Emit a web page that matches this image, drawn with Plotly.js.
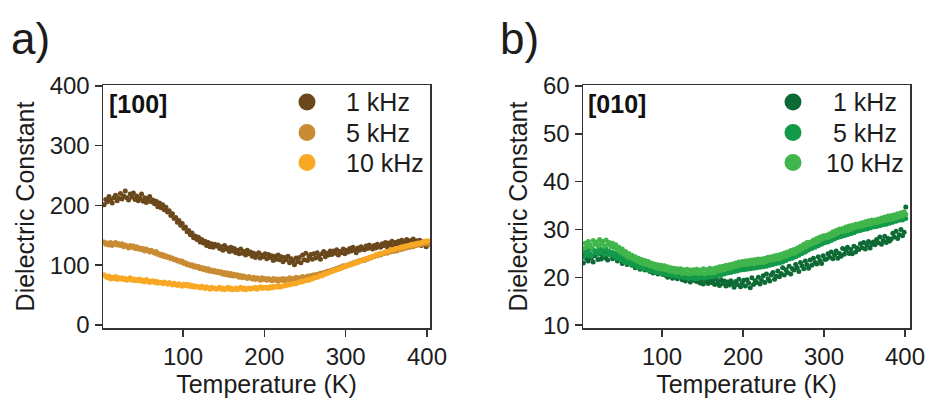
<!DOCTYPE html>
<html>
<head>
<meta charset="utf-8">
<script src="https://cdn.plot.ly/plotly-3.0.1.min.js"></script>
<style>
  html, body { margin: 0; padding: 0; background: #ffffff; }
  #chart { width: 930px; height: 402px; }
</style>
</head>
<body>
<div id="chart"></div>
<script>
// Temperature sweep (K), shared by every frequency
const temperature = [
  3, 5, 7, 9, 11, 13, 15, 17, 19, 21,
  23, 25, 27, 29, 31, 33, 35, 37, 39, 41,
  43, 45, 47, 49, 51, 53, 55, 57, 59, 61,
  63, 65, 67, 69, 71, 73, 75, 77, 79, 81,
  83, 85, 87, 89, 91, 93, 95, 97, 99, 101,
  103, 105, 107, 109, 111, 113, 115, 117, 119, 121,
  123, 125, 127, 129, 131, 133, 135, 137, 139, 141,
  143, 145, 147, 149, 151, 153, 155, 157, 159, 161,
  163, 165, 167, 169, 171, 173, 175, 177, 179, 181,
  183, 185, 187, 189, 191, 193, 195, 197, 199, 201,
  203, 205, 207, 209, 211, 213, 215, 217, 219, 221,
  223, 225, 227, 229, 231, 233, 235, 237, 239, 241,
  243, 245, 247, 249, 251, 253, 255, 257, 259, 261,
  263, 265, 267, 269, 271, 273, 275, 277, 279, 281,
  283, 285, 287, 289, 291, 293, 295, 297, 299, 301,
  303, 305, 307, 309, 311, 313, 315, 317, 319, 321,
  323, 325, 327, 329, 331, 333, 335, 337, 339, 341,
  343, 345, 347, 349, 351, 353, 355, 357, 359, 361,
  363, 365, 367, 369, 371, 373, 375, 377, 379, 381,
  383, 385, 387, 389, 391, 393, 395, 397, 399, 401
];

// [100] orientation, dielectric constant
const dir100_1kHz = [
  201, 210, 206, 215, 209, 204, 213, 217, 208, 212,
  220, 211, 216, 224, 213, 209, 219, 214, 221, 210,
  216, 208, 212, 219, 207, 213, 205, 211, 215, 206,
  209, 203, 207, 198, 204, 196, 201, 193, 197, 189,
  191, 183, 186, 178, 180, 172, 175, 167, 170, 162,
  164, 156, 158, 151, 154, 146, 149, 143, 147, 139,
  143, 137, 140, 133, 138, 131, 136, 130, 135, 132,
  134, 128, 131, 125, 133, 127, 129, 123, 130, 124,
  128, 121, 125, 119, 127, 120, 123, 117, 125, 119,
  122, 115, 120, 113, 118, 121, 112, 117, 114, 119,
  111, 118, 113, 116, 108, 115, 110, 117, 109, 114,
  106, 113, 109, 115, 104, 111, 107, 101, 112, 106,
  113, 104, 117, 109, 120, 108, 114, 118, 110, 119,
  112, 121, 116, 110, 119, 123, 114, 120, 117, 124,
  118, 124, 120, 126, 117, 123, 121, 127, 119, 125,
  122, 128, 124, 130, 126, 121, 129, 125, 131, 127,
  126, 132, 128, 134, 130, 127, 133, 129, 135, 131,
  130, 136, 133, 138, 131, 137, 134, 140, 132, 138,
  135, 140, 137, 142, 134, 139, 143, 136, 141, 138,
  144, 137, 141, 135, 142, 133, 139, 136, 131, 134
];
const dir100_5kHz = [
  139, 135, 137, 134, 138, 133, 136, 138, 134, 136,
  133, 136, 131, 134, 132, 129, 133, 130, 132, 128,
  131, 127, 129, 126, 128, 124, 127, 125, 122, 125,
  122, 120, 123, 118, 119, 116, 118, 114, 116, 113,
  114, 111, 112, 109, 110, 107, 108, 105, 107, 103,
  104, 101, 102, 99, 101, 97, 99, 96, 98, 94,
  96, 93, 95, 91, 94, 90, 92, 89, 91, 88,
  90, 87, 89, 85, 88, 84, 87, 83, 86, 82,
  85, 82, 84, 80, 83, 79, 82, 80, 78, 81,
  79, 77, 80, 76, 79, 78, 75, 79, 76, 78,
  75, 78, 76, 74, 78, 75, 77, 73, 77, 75,
  78, 74, 77, 76, 79, 75, 78, 76, 80, 77,
  79, 77, 81, 78, 80, 82, 79, 83, 81, 84,
  82, 85, 84, 87, 86, 88, 87, 90, 89, 91,
  90, 93, 92, 95, 94, 97, 96, 99, 98, 100,
  99, 102, 101, 104, 103, 106, 105, 108, 107, 109,
  108, 111, 110, 113, 112, 115, 114, 117, 116, 118,
  117, 120, 119, 122, 120, 123, 122, 125, 123, 126,
  124, 127, 126, 129, 127, 130, 129, 132, 130, 133,
  131, 134, 133, 136, 134, 137, 135, 138, 136, 135
];
const dir100_10kHz = [
  84, 81, 79, 82, 77, 80, 78, 81, 76, 79,
  77, 79, 76, 78, 75, 77, 79, 75, 77, 74,
  76, 74, 77, 73, 75, 72, 76, 74, 71, 73,
  74, 71, 73, 70, 72, 71, 69, 72, 70, 68,
  71, 69, 67, 70, 68, 66, 69, 67, 65, 68,
  66, 68, 65, 67, 64, 66, 63, 65, 64, 62,
  65, 63, 61, 64, 62, 60, 63, 61, 62, 60,
  61, 63, 60, 62, 59, 61, 63, 60, 62, 59,
  60, 62, 59, 61, 63, 60, 62, 59, 61, 62,
  60, 62, 61, 63, 60, 62, 64, 61, 63, 62,
  63, 61, 64, 62, 65, 63, 64, 66, 63, 65,
  65, 67, 66, 68, 67, 69, 68, 70, 69, 71,
  71, 73, 72, 74, 74, 76, 75, 77, 77, 79,
  79, 80, 81, 83, 82, 85, 85, 87, 87, 89,
  89, 91, 91, 93, 93, 95, 95, 97, 97, 99,
  99, 101, 101, 103, 103, 105, 105, 107, 107, 109,
  109, 111, 111, 113, 113, 115, 115, 117, 117, 119,
  119, 120, 121, 122, 123, 124, 125, 126, 126, 128,
  128, 129, 129, 131, 130, 132, 132, 133, 133, 135,
  134, 136, 135, 137, 136, 138, 138, 140, 139, 141
];

// [010] orientation, dielectric constant
const dir010_1kHz = [
  23.0, 24.6, 23.9, 23.4, 24.8, 24.1, 23.2, 24.5, 25.0, 23.7,
  24.9, 23.8, 24.4, 25.3, 24.0, 23.6, 24.8, 25.1, 23.9, 24.3,
  24.5, 23.4, 23.9, 24.6, 22.9, 23.5, 24.1, 22.7, 23.3, 23.8,
  22.5, 23.2, 22.0, 22.9, 23.1, 21.7, 22.4, 22.8, 21.5, 22.2,
  22.3, 21.2, 21.8, 20.9, 22.0, 21.4, 20.7, 21.6, 21.1, 20.6,
  21.3, 20.4, 20.0, 21.0, 20.7, 19.8, 20.9, 20.2, 19.7, 20.6,
  20.5, 19.5, 20.1, 19.2, 20.3, 19.9, 19.0, 19.6, 20.2, 19.3,
  19.1, 19.9, 18.8, 19.5, 18.6, 20.0, 19.2, 18.7, 19.6, 18.9,
  19.4, 18.5, 19.7, 18.9, 18.3, 19.5, 18.7, 19.2, 18.2, 19.0,
  18.4, 19.3, 18.7, 17.9, 19.1, 18.5, 19.6, 18.0, 18.8, 19.4,
  18.2, 19.5, 18.8, 17.8, 19.9, 18.5, 19.3, 18.9, 20.0, 18.6,
  19.4, 20.3, 18.9, 20.7, 19.7, 19.2, 20.5, 21.0, 19.6, 20.2,
  21.3, 20.1, 20.8, 22.0, 20.5, 21.6, 21.0, 22.3, 20.7, 21.8,
  21.5, 22.7, 22.0, 21.2, 23.1, 22.4, 21.8, 23.4, 22.6, 21.9,
  23.6, 22.5, 24.0, 23.1, 22.8, 24.3, 23.5, 22.9, 24.5, 23.7,
  23.8, 24.9, 24.2, 25.3, 23.9, 24.7, 25.5, 24.0, 25.0, 24.4,
  26.0, 24.8, 25.6, 26.3, 25.0, 25.8, 24.9, 26.5, 25.3, 26.1,
  25.8, 27.0, 26.2, 27.3, 25.9, 26.7, 27.5, 26.1, 26.9, 27.4,
  26.8, 27.9, 27.2, 28.4, 26.9, 27.7, 28.6, 27.3, 28.1, 27.6,
  28.0, 29.2, 28.4, 29.6, 28.1, 28.9, 30.0, 28.7, 29.4, 34.7
];
const dir010_5kHz = [
  24.2, 25.3, 24.6, 25.7, 24.9, 24.4, 25.8, 25.1, 25.5, 24.8,
  26.0, 25.2, 25.6, 24.7, 25.9, 25.0, 25.4, 24.6, 25.2, 24.4,
  25.0, 24.0, 24.6, 23.6, 24.2, 23.3, 23.9, 23.0, 23.6, 22.8,
  23.3, 22.6, 23.0, 22.2, 22.8, 22.0, 22.6, 21.8, 22.4, 21.7,
  22.2, 21.4, 22.0, 21.2, 21.8, 21.0, 21.6, 20.9, 21.5, 20.8,
  21.4, 20.6, 21.2, 20.5, 21.1, 20.3, 21.0, 20.2, 20.9, 20.1,
  20.8, 20.0, 20.7, 19.9, 20.6, 19.8, 20.5, 19.8, 20.6, 19.7,
  20.5, 19.8, 20.6, 19.9, 20.7, 19.9, 20.8, 20.0, 20.9, 20.1,
  20.9, 20.2, 21.1, 20.4, 21.2, 20.5, 21.3, 20.7, 21.5, 20.9,
  21.6, 21.0, 21.8, 21.2, 22.0, 21.3, 22.1, 21.5, 22.2, 21.6,
  22.3, 21.7, 22.4, 21.8, 22.5, 21.9, 22.6, 22.0, 22.7, 22.1,
  22.8, 22.2, 23.0, 22.3, 23.1, 22.5, 23.3, 22.7, 23.5, 22.9,
  23.6, 23.0, 23.8, 23.2, 24.1, 23.5, 24.3, 23.8, 24.6, 24.0,
  24.8, 24.3, 25.2, 24.6, 25.5, 25.0, 25.9, 25.3, 26.2, 25.7,
  26.5, 26.0, 26.8, 26.3, 27.1, 26.6, 27.4, 26.9, 27.7, 27.2,
  27.9, 27.4, 28.2, 27.7, 28.5, 28.0, 28.8, 28.3, 29.0, 28.5,
  29.2, 28.7, 29.5, 28.9, 29.7, 29.1, 29.9, 29.3, 30.1, 29.6,
  30.3, 29.8, 30.5, 30.0, 30.7, 30.1, 30.9, 30.3, 31.0, 30.5,
  31.2, 30.6, 31.4, 30.8, 31.5, 31.0, 31.7, 31.1, 31.9, 31.3,
  32.0, 31.5, 32.2, 31.7, 32.4, 31.9, 32.6, 32.0, 32.8, 32.3
];
const dir010_10kHz = [
  26.0, 27.1, 26.4, 27.5, 26.8, 26.2, 27.7, 26.9, 27.4, 26.6,
  27.9, 27.0, 27.5, 26.5, 27.8, 26.9, 27.3, 26.4, 27.1, 26.2,
  26.8, 25.7, 26.3, 25.2, 25.9, 24.8, 25.4, 24.3, 25.0, 24.1,
  24.6, 23.8, 24.3, 23.4, 24.0, 23.1, 23.7, 22.8, 23.5, 22.7,
  23.3, 22.4, 23.0, 22.2, 22.8, 21.9, 22.6, 21.8, 22.5, 21.7,
  22.4, 21.5, 22.2, 21.3, 22.0, 21.2, 21.9, 21.0, 21.8, 21.1,
  21.8, 20.8, 21.6, 20.9, 21.7, 20.7, 21.5, 20.8, 21.6, 20.9,
  21.7, 20.8, 21.5, 20.9, 21.8, 20.7, 21.6, 21.0, 21.9, 20.9,
  21.8, 21.0, 22.0, 21.3, 22.2, 21.4, 22.3, 21.6, 22.5, 21.8,
  22.6, 21.9, 22.8, 22.2, 23.0, 22.3, 23.2, 22.5, 23.3, 22.7,
  23.4, 22.7, 23.5, 22.9, 23.6, 22.8, 23.7, 23.0, 23.8, 23.1,
  23.8, 23.1, 24.0, 23.3, 24.2, 23.5, 24.3, 23.6, 24.5, 23.8,
  24.6, 23.9, 24.8, 24.2, 25.1, 24.4, 25.3, 24.7, 25.6, 24.9,
  25.8, 25.1, 26.1, 25.5, 26.5, 25.9, 26.9, 26.3, 27.3, 26.7,
  27.4, 26.9, 27.8, 27.2, 28.1, 27.5, 28.4, 27.9, 28.7, 28.2,
  28.8, 28.3, 29.1, 28.6, 29.5, 28.9, 29.8, 29.2, 30.1, 29.5,
  30.2, 29.6, 30.5, 29.8, 30.7, 30.0, 30.9, 30.3, 31.1, 30.5,
  31.2, 30.6, 31.4, 30.8, 31.6, 31.0, 31.8, 31.1, 32.0, 31.3,
  32.0, 31.4, 32.2, 31.6, 32.4, 31.8, 32.6, 31.9, 32.8, 32.1,
  32.9, 32.2, 33.1, 32.4, 33.3, 32.6, 33.5, 32.8, 33.7, 33.2
];

const seriesNames = ['1 kHz', '5 kHz', '10 kHz'];
const panelLabels = ['a)', 'b)'];
const orientationLabels = ['[100]', '[010]'];
const xTicks = [100, 200, 300, 400];
const yTicksA = [0, 100, 200, 300, 400];
const yTicksB = [10, 20, 30, 40, 50, 60];

const brownColors = ['#6a481b', '#c98b33', '#f8a823'];
const greenColors = ['#0e6a34', '#12994a', '#40b54b'];

// Figure geometry in pixels
const W = 930, H = 402;
const fx = v => v / W;           // pixel x -> paper x
const fy = v => 1 - v / H;       // pixel y -> paper y
const FONT = 'Liberation Sans, Arial, Helvetica, sans-serif';
const INK = '#1c1c1c';
const AXIS = '#333333';

const panelA = [dir100_1kHz, dir100_5kHz, dir100_10kHz];
const panelB = [dir010_1kHz, dir010_5kHz, dir010_10kHz];

const traces = [];
panelA.forEach((vals, i) => {
  traces.push({
    x: temperature, y: vals, xaxis: 'x', yaxis: 'y',
    type: 'scatter', mode: 'markers', name: seriesNames[i], showlegend: false,
    marker: { color: brownColors[i], size: 5, line: { width: 0 } },
    hoverinfo: 'x+y'
  });
});
panelB.forEach((vals, i) => {
  traces.push({
    x: temperature, y: vals, xaxis: 'x2', yaxis: 'y2',
    type: 'scatter', mode: 'markers', name: seriesNames[i], showlegend: false,
    marker: { color: greenColors[i], size: 5, line: { width: 0 } },
    hoverinfo: 'x+y'
  });
});

function axisStyle(extra) {
  return Object.assign({
    showline: true, linecolor: AXIS, linewidth: 1.5, mirror: true,
    ticks: 'outside', ticklen: 7, tickwidth: 1.5, tickcolor: AXIS,
    showgrid: false, zeroline: false,
    tickfont: { family: FONT, size: 24, color: INK },
    fixedrange: true
  }, extra);
}

const titleFont = { family: FONT, size: 25, color: INK };

// Hand-placed legend: circle swatches plus labels
const legendRows = [102, 132.5, 162.5];
const shapes = [];
const annotations = [];
function addLegend(cx, textX, align, colors) {
  legendRows.forEach((ry, i) => {
    shapes.push({
      type: 'circle', xref: 'paper', yref: 'paper',
      xsizemode: 'pixel', ysizemode: 'pixel',
      xanchor: fx(cx), yanchor: fy(ry),
      x0: -8.5, x1: 8.5, y0: -8.5, y1: 8.5,
      fillcolor: colors[i], line: { width: 0 }
    });
    annotations.push({
      xref: 'paper', yref: 'paper', x: fx(textX), y: fy(ry),
      xanchor: align, yanchor: 'middle', showarrow: false,
      text: seriesNames[i], font: { family: FONT, size: 25, color: INK }
    });
  });
}
addLegend(307, 344, 'left', brownColors);
addLegend(793, 865, 'center', greenColors);

// Orientation tags inside each frame
annotations.push({
  xref: 'paper', yref: 'paper', x: fx(107), y: fy(104),
  xanchor: 'left', yanchor: 'middle', showarrow: false,
  text: '<b>' + orientationLabels[0] + '</b>', font: { family: FONT, size: 25, color: '#111' }
});
annotations.push({
  xref: 'paper', yref: 'paper', x: fx(586), y: fy(104),
  xanchor: 'left', yanchor: 'middle', showarrow: false,
  text: '<b>' + orientationLabels[1] + '</b>', font: { family: FONT, size: 25, color: '#111' }
});

// Panel letters
annotations.push({
  xref: 'paper', yref: 'paper', x: fx(9), y: fy(38),
  xanchor: 'left', yanchor: 'middle', showarrow: false,
  text: panelLabels[0], font: { family: FONT, size: 44, color: INK }
});
annotations.push({
  xref: 'paper', yref: 'paper', x: fx(498), y: fy(38),
  xanchor: 'left', yanchor: 'middle', showarrow: false,
  text: panelLabels[1], font: { family: FONT, size: 44, color: INK }
});

const layout = {
  width: W, height: H,
  margin: { l: 0, r: 0, t: 0, b: 0 },
  paper_bgcolor: '#ffffff', plot_bgcolor: '#ffffff',
  showlegend: false,
  font: { family: FONT, color: INK },
  xaxis: axisStyle({
    domain: [fx(103), fx(430)], range: [1.6, 403.7], anchor: 'y',
    tickvals: xTicks,
    title: { text: 'Temperature (K)', font: titleFont, standoff: 4 }
  }),
  yaxis: axisStyle({
    domain: [fy(328), fy(85)], range: [-5, 401.5], anchor: 'x',
    tickvals: yTicksA,
    title: { text: 'Dielectric Constant', font: titleFont, standoff: 8 }
  }),
  xaxis2: axisStyle({
    domain: [fx(583), fx(910)], range: [2.5, 406.2], anchor: 'y2',
    tickvals: xTicks,
    title: { text: 'Temperature (K)', font: titleFont, standoff: 4 }
  }),
  yaxis2: axisStyle({
    domain: [fy(328), fy(85)], range: [9.4, 60.2], anchor: 'x2',
    tickvals: yTicksB,
    title: { text: 'Dielectric Constant', font: titleFont, standoff: 8 }
  }),
  shapes: shapes,
  annotations: annotations
};

Plotly.newPlot('chart', traces, layout, { displayModeBar: false, staticPlot: true });
</script>
</body>
</html>
